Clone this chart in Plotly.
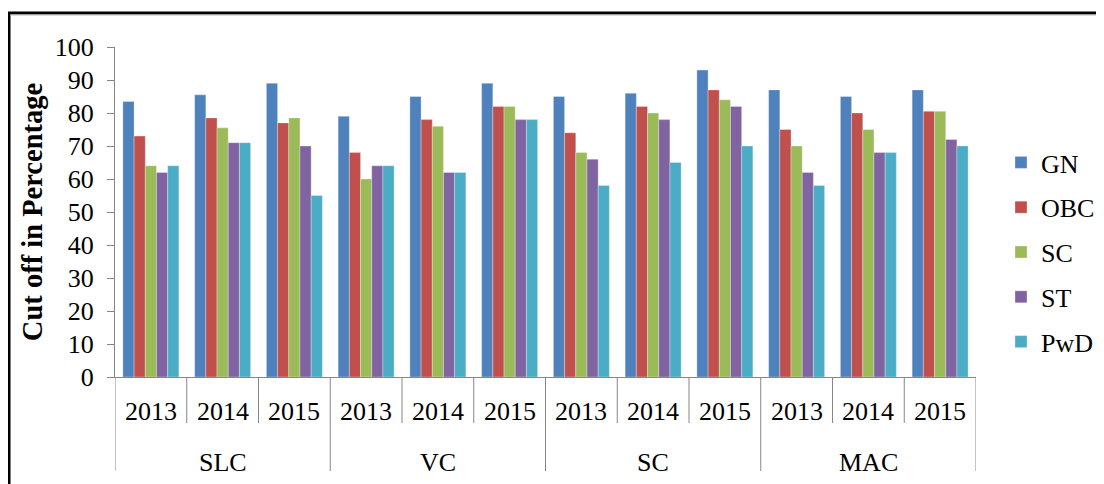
import plotly.graph_objects as go

groups = ["SLC", "VC", "SC", "MAC"]
years = ["2013", "2014", "2015"]
series_names = ["GN", "OBC", "SC", "ST", "PwD"]
colors = ["#4F81BD", "#C0504D", "#9BBB59", "#8064A2", "#4BACC6"]

GN = [83.5, 85.5, 89, 79, 85, 89, 85, 86, 93, 87, 85, 87]
OBC = [73, 78.5, 77, 68, 78, 82, 74, 82, 87, 75, 80, 80.5]
SC = [64, 75.5, 78.5, 60, 76, 82, 68, 80, 84, 70, 75, 80.5]
ST = [62, 71, 70, 64, 62, 78, 66, 78, 82, 62, 68, 72]
PwD = [64, 71, 55, 64, 62, 78, 58, 65, 70, 58, 68, 70]
values = [GN, OBC, SC, ST, PwD]

y_ticks = list(range(0, 101, 10))

FONT = "Liberation Serif, Times New Roman, serif"
OFF = 8  # page body margin
W, H = 1104, 484
plot_left, plot_right, plot_top, plot_bottom = 115, 976, 47, 377  # screen px
L = plot_left - OFF
R = W - (plot_right - OFF)
T = plot_top - OFF
B = H - (plot_bottom - OFF)
pw = plot_right - plot_left
ph = plot_bottom - plot_top

def px_x(p):
    return (p - plot_left) / pw

def px_y(p):
    return (plot_bottom - p) / ph

xpos = list(range(len(groups) * len(years)))

fig = go.Figure()
for name, col, vals in zip(series_names, colors, values):
    fig.add_trace(go.Bar(
        x=xpos, y=vals, name=name, legendgroup=name,
        marker=dict(color=col, line=dict(color="rgba(255,255,255,0.5)", width=0.6)),
    ))

annotations = []
shapes = []
for gi, g in enumerate(groups):
    for yi, yr in enumerate(years):
        i = gi * 3 + yi
        annotations.append(dict(x=i, y=px_y(411), xref="x", yref="paper", text=yr,
                                showarrow=False, font=dict(family=FONT, size=26, color="black"),
                                xanchor="center", yanchor="middle"))
        if yi < 2:
            shapes.append(dict(type="line", xref="x", yref="paper", x0=i + 0.5, x1=i + 0.5,
                               y0=0, y1=px_y(423), line=dict(color="#868686", width=1)))
    annotations.append(dict(x=gi * 3 + 1, y=px_y(462), xref="x", yref="paper", text=g,
                            showarrow=False, font=dict(family=FONT, size=26, color="black"),
                            xanchor="center", yanchor="middle"))
for k in range(len(groups) + 1):
    xv = k * 3 - 0.5
    shapes.append(dict(type="line", xref="x", yref="paper", x0=xv, x1=xv,
                       y0=0, y1=px_y(471), line=dict(color="#868686", width=1)))

# outer frame
shapes.append(dict(type="line", xref="paper", yref="paper", x0=px_x(9), x1=px_x(9),
                   y0=px_y(600), y1=px_y(12), line=dict(color="black", width=3)))
shapes.append(dict(type="line", xref="paper", yref="paper", x0=px_x(8), x1=px_x(1200),
                   y0=px_y(13), y1=px_y(13), line=dict(color="black", width=3)))
shapes.append(dict(type="line", xref="paper", yref="paper", x0=px_x(10), x1=px_x(1200),
                   y0=px_y(15), y1=px_y(15), line=dict(color="#BBBBBB", width=1)))

fig.update_layout(
    width=W, height=H,
    margin=dict(l=L, r=R, t=T, b=B),
    paper_bgcolor="white", plot_bgcolor="white",
    barmode="group", bargap=0.22, bargroupgap=0,
    font=dict(family=FONT, size=26, color="black"),
    xaxis=dict(range=[-0.5, 11.5], showticklabels=False, ticks="", showgrid=False,
               zeroline=False, showline=True, linecolor="#868686", linewidth=1),
    yaxis=dict(range=[0, 100], tickvals=y_ticks, ticks="outside", ticklen=7,
               tickcolor="#868686", showgrid=False, zeroline=False, showline=True,
               linecolor="#868686", linewidth=1, ticklabelstandoff=8,
               tickfont=dict(family=FONT, size=26, color="black"),
               title=dict(text="<b>Cut off in Percentage</b>", standoff=3,
                          font=dict(family=FONT, size=28.5, color="black"))),
    legend=dict(x=px_x(1001), y=px_y(139), xanchor="left", yanchor="top",
                font=dict(family=FONT, size=26, color="black"),
                traceorder="grouped", tracegroupgap=8, itemwidth=30,
                bgcolor="rgba(0,0,0,0)"),
    annotations=annotations,
    shapes=shapes,
)

fig.write_html("out.html")
